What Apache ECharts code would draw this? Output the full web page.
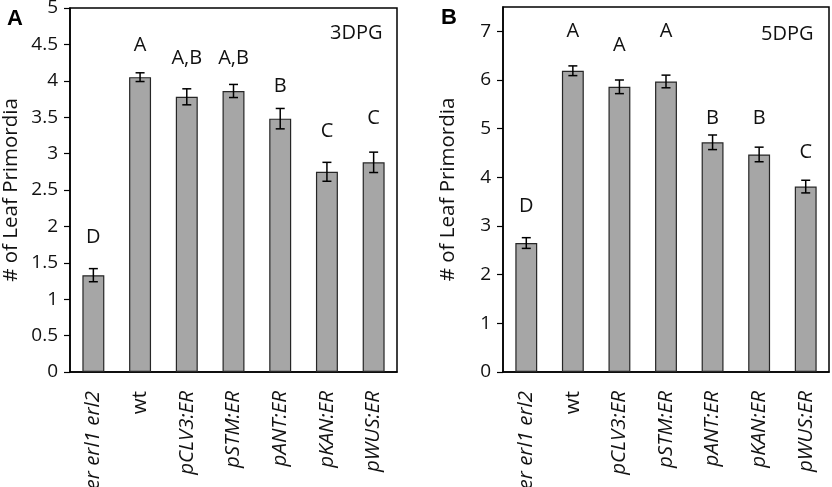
<!DOCTYPE html>
<html><head><meta charset="utf-8">
<script src="https://cdn.jsdelivr.net/npm/echarts@6/dist/echarts.min.js"></script>
<style>html,body{margin:0;padding:0;background:#fff}#c{width:832px;height:487px}</style>
</head><body><div id="c"></div>
<script>
const categories = ['er erl1 erl2','wt','pCLV3:ER','pSTM:ER','pANT:ER','pKAN:ER','pWUS:ER'];
const meanA = [1.33, 4.05, 3.78, 3.86, 3.48, 2.75, 2.88];
const errA = [0.09, 0.06, 0.11, 0.09, 0.14, 0.13, 0.14];
const lettersA = ['D','A','A,B','A,B','B','C','C'];
const letterYA = [1.85, 4.49, 4.31, 4.31, 3.93, 3.30, 3.48];
const meanB = [2.65, 6.19, 5.86, 5.97, 4.72, 4.47, 3.81];
const errB = [0.11, 0.10, 0.14, 0.13, 0.15, 0.15, 0.13];
const lettersB = ['D','A','A','A','B','B','C'];
const letterYB = [3.40, 7.0, 6.72, 7.0, 5.21, 5.21, 4.51];
const yTicksA = [0,0.5,1,1.5,2,2.5,3,3.5,4,4.5,5];
const yTicksB = [0,1,2,3,4,5,6,7];

const FONT = '"Open Sans", sans-serif';
const chart = echarts.init(document.getElementById('c'), null, {renderer:'canvas'});

function xAxis(idx){
  return {
    type:'category', gridIndex:idx, data:categories,
    axisLine:{show:true, lineStyle:{color:'#000', width:1.5}},
    axisTick:{show:false},
    axisLabel:{
      rotate:90, margin:19, interval:0,
      formatter: v => v === 'wt' ? '{n|' + v + '}' : '{i|' + v + '}',
      rich:{
        i:{fontStyle:'italic', fontFamily:FONT, fontSize:20.5, color:'#111'},
        n:{fontFamily:FONT, fontSize:20.5, color:'#111'}
      }
    }
  };
}
function yAxis(idx, max, interval, ticks, gap){
  return {
    type:'value', gridIndex:idx, min:0, max:max, interval:interval,
    name:'# of Leaf Primordia', nameLocation:'middle', nameGap:gap,
    nameTextStyle:{fontFamily:FONT, fontSize:20.5, color:'#111'},
    axisLine:{show:true, lineStyle:{color:'#000', width:1.5}},
    axisTick:{show:true, length:6, lineStyle:{color:'#000', width:1.2}, customValues:ticks},
    axisLabel:{fontFamily:FONT, fontSize:19, color:'#111', margin:12, customValues:ticks},
    splitLine:{show:false}
  };
}
function bars(idx, mean){
  return {
    type:'bar', xAxisIndex:idx, yAxisIndex:idx, data:mean, barWidth:'47%',
    itemStyle:{color:'#a6a6a6', borderColor:'#262626', borderWidth:1.2},
    silent:true
  };
}
function errs(idx, mean, err){
  return {
    type:'custom', xAxisIndex:idx, yAxisIndex:idx, silent:true, z:5,
    data: mean.map((v,i)=>[i, v, err[i]]),
    renderItem:(params, api)=>{
      const i = api.value(0), v = api.value(1), e = api.value(2);
      const lo = api.coord([i, v - e]), hi = api.coord([i, v + e]);
      const w = 4.5;
      const st = {stroke:'#000', lineWidth:1.5};
      return {type:'group', children:[
        {type:'line', shape:{x1:lo[0], y1:lo[1], x2:hi[0], y2:hi[1]}, style:st},
        {type:'line', shape:{x1:lo[0]-w, y1:lo[1], x2:lo[0]+w, y2:lo[1]}, style:st},
        {type:'line', shape:{x1:hi[0]-w, y1:hi[1], x2:hi[0]+w, y2:hi[1]}, style:st}
      ]};
    }
  };
}
function letters(idx, ys, labs){
  return {
    type:'custom', xAxisIndex:idx, yAxisIndex:idx, silent:true, z:6,
    data: ys.map((v,i)=>[i, v]),
    renderItem:(params, api)=>{
      const p = api.coord([api.value(0), api.value(1)]);
      return {type:'text', style:{text:labs[params.dataIndex], x:p[0], y:p[1],
        align:'center', verticalAlign:'middle', fontFamily:FONT, fontSize:20, fill:'#111'}};
    }
  };
}

chart.setOption({
  animation:false,
  backgroundColor:'#fff',
  title:[
    {text:'A', left:2, top:3, textStyle:{fontFamily:'"Liberation Sans", Arial, sans-serif', fontWeight:'bold', fontSize:22, color:'#000'}},
    {text:'B', left:436, top:2, textStyle:{fontFamily:'"Liberation Sans", Arial, sans-serif', fontWeight:'bold', fontSize:22, color:'#000'}},
    {text:'3DPG', left:325, top:18, textStyle:{fontFamily:FONT, fontWeight:'normal', fontSize:20, color:'#111'}},
    {text:'5DPG', left:756, top:19, textStyle:{fontFamily:FONT, fontWeight:'normal', fontSize:20, color:'#111'}}
  ],
  grid:[
    {left:70, right:435, top:8, bottom:115, show:true, borderColor:'#000', borderWidth:1.5, backgroundColor:'transparent', containLabel:false, outerBoundsMode:'none'},
    {left:503, right:3, top:7, bottom:115, show:true, borderColor:'#000', borderWidth:1.5, backgroundColor:'transparent', containLabel:false, outerBoundsMode:'none'}
  ],
  xAxis:[xAxis(0), xAxis(1)],
  yAxis:[yAxis(0, 5, 0.5, yTicksA, 48), yAxis(1, 7.5, 1, yTicksB, 44)],
  series:[
    bars(0, meanA), errs(0, meanA, errA), letters(0, letterYA, lettersA),
    bars(1, meanB), errs(1, meanB, errB), letters(1, letterYB, lettersB)
  ]
});
</script></body></html>
